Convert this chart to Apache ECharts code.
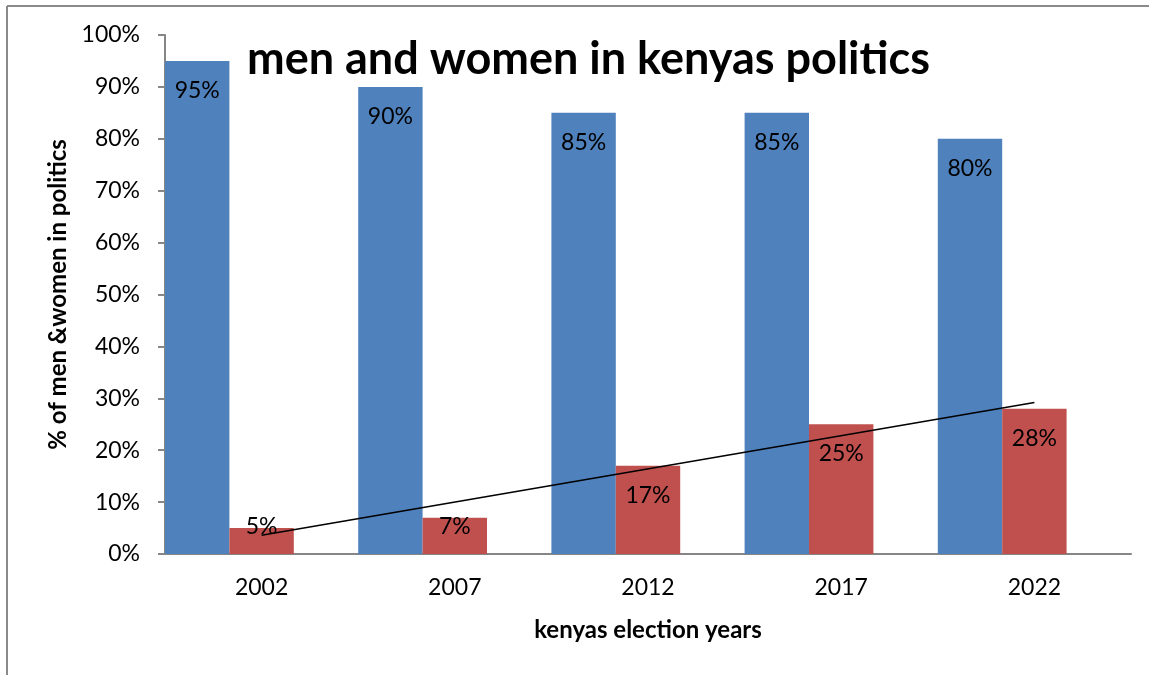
<!DOCTYPE html>
<html>
<head>
<meta charset="utf-8">
<script src="https://cdn.jsdelivr.net/npm/echarts@6/dist/echarts.min.js"></script>
<style>
  html, body { margin: 0; padding: 0; background: #fff; }
  #chart { width: 1149px; height: 675px; }
</style>
</head>
<body>
<div id="chart"></div>
<script>
// Election years and share of seats held by men / women (%)
const years = ['2002', '2007', '2012', '2017', '2022'];
const men = [95, 90, 85, 85, 80];
const women = [5, 7, 17, 25, 28];
// Third slot of each year group is left empty (no values recorded)
const other = [null, null, null, null, null];
// Linear trend of the women's share, at the first and last year
const womenTrend = [3.6, null, null, null, 29.2];
const yTicks = [0, 10, 20, 30, 40, 50, 60, 70, 80, 90, 100];

const FONT = 'Lato, "Open Sans", sans-serif';

const chart = echarts.init(document.getElementById('chart'));

// Short bars get their label lifted off the axis instead of hanging from the top
function withLabel(values) {
  return values.map(v => (v != null && v < 10)
    ? { value: v, label: { position: 'insideBottom', distance: 16 } }
    : v);
}

const barLabel = {
  show: true,
  position: 'insideTop',
  distance: 18,
  color: '#000',
  fontFamily: FONT,
  fontSize: 23,
  formatter: p => p.value + '%'
};

chart.setOption({
  animation: false,
  backgroundColor: '#fff',
  title: {
    text: 'men and women in kenyas politics',
    left: 242,
    top: 32,
    textStyle: { fontFamily: FONT, fontWeight: 'bold', fontSize: 45, color: '#000' }
  },
  graphic: [
    { type: 'line', shape: { x1: 7, y1: 6, x2: 1149, y2: 6 }, style: { stroke: '#8a8a8a', lineWidth: 2 } },
    { type: 'line', shape: { x1: 7, y1: 6, x2: 7, y2: 675 }, style: { stroke: '#8a8a8a', lineWidth: 2 } }
  ],
  grid: { left: 165, right: 18, top: 35, bottom: 121, containLabel: false },
  xAxis: {
    type: 'category',
    data: years,
    name: 'kenyas election years',
    nameLocation: 'middle',
    nameGap: 64,
    nameTextStyle: { fontFamily: FONT, fontWeight: 'bold', fontSize: 24, color: '#000' },
    axisLine: { lineStyle: { color: '#868686', width: 2 } },
    axisTick: { show: false },
    axisLabel: { color: '#000', fontFamily: FONT, fontSize: 23, margin: 22 }
  },
  yAxis: {
    type: 'value',
    min: yTicks[0],
    max: yTicks[yTicks.length - 1],
    interval: yTicks[1] - yTicks[0],
    name: '% of men &women in politics',
    nameLocation: 'middle',
    nameGap: 93,
    nameTextStyle: { fontFamily: FONT, fontWeight: 'bold', fontSize: 24, color: '#000' },
    axisLine: { show: true, lineStyle: { color: '#868686', width: 2 } },
    axisTick: { show: true, length: 7, lineStyle: { color: '#868686', width: 2 } },
    splitLine: { show: false },
    axisLabel: { color: '#000', fontFamily: FONT, fontSize: 23, margin: 25, formatter: '{value}%' }
  },
  series: [
    {
      name: 'men',
      type: 'bar',
      data: withLabel(men),
      barGap: '0%',
      barCategoryGap: '0%',
      itemStyle: { color: '#4F81BD' },
      label: barLabel
    },
    {
      name: 'women',
      type: 'bar',
      data: withLabel(women),
      barGap: '0%',
      barCategoryGap: '0%',
      itemStyle: { color: '#C0504D' },
      label: barLabel
    },
    {
      name: 'other',
      type: 'bar',
      data: other,
      barGap: '0%',
      barCategoryGap: '0%',
      itemStyle: { color: '#9BBB59' }
    },
    {
      name: 'women trend',
      type: 'line',
      data: womenTrend,
      connectNulls: true,
      symbol: 'none',
      z: 5,
      lineStyle: { color: '#000', width: 1.6 }
    }
  ]
});
</script>
</body>
</html>
